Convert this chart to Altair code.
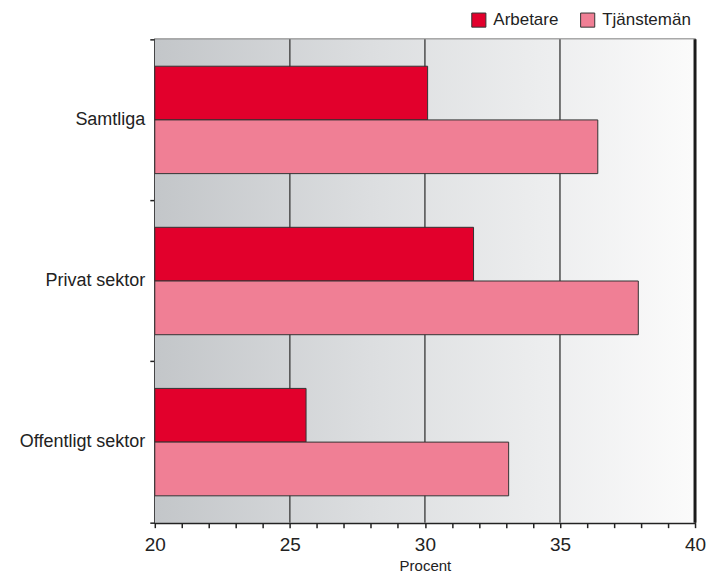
import altair as alt
import pandas as pd

categories = ["Samtliga", "Privat sektor", "Offentligt sektor"]
groups = ["Arbetare", "Tjänstemän"]
arbetare = [30.1, 31.8, 25.6]
tjansteman = [36.4, 37.9, 33.1]
x_ticks = list(range(20, 41))
x_min, x_max = 20, 40
grid_values = [25, 30, 35]
border_values = [40]
colors = ["#e2002c", "#f07f95"]

rows = []
for c, a, t in zip(categories, arbetare, tjansteman):
    rows.append({"kategori": c, "grupp": groups[0], "varde": a})
    rows.append({"kategori": c, "grupp": groups[1], "varde": t})
df = pd.DataFrame(rows)

FONT = "Liberation Sans"
xscale = alt.Scale(domain=[x_min, x_max], zero=False, nice=False)

x_axis = alt.Axis(
    values=x_ticks,
    labelExpr="datum.value % 5 === 0 ? datum.label : ''",
    labelOverlap=False,
    labelFlush=False,
    tickSize=5,
    tickColor="#222222",
    tickWidth=1.5,
    domainColor="#222222",
    domainWidth=2,
    grid=False,
    labelFontSize=19,
    labelColor="#222222",
    labelFont=FONT,
    labelPadding=8,
    title="Procent",
    titleFont=FONT,
    titleFontSize=15,
    titleFontWeight="normal",
    titleColor="#222222",
    titlePadding=4,
)

gradient = alt.LinearGradient(
    gradient="linear",
    stops=[
        alt.GradientStop(color="#c3c6c9", offset=0),
        alt.GradientStop(color="#dcdee0", offset=0.4),
        alt.GradientStop(color="#fbfbfb", offset=1),
    ],
    x1=0, x2=1, y1=0, y2=0,
)

bg = alt.Chart(pd.DataFrame({"a": [0]})).mark_rect(color=gradient).encode(
    opacity=alt.value(1)
)

grid = alt.Chart(pd.DataFrame({"v": grid_values})).mark_rule(
    color="#4d4d4d", strokeWidth=1.5
).encode(x=alt.X("v:Q", scale=xscale, axis=x_axis))

border = alt.Chart(pd.DataFrame({"v": border_values})).mark_rule(
    color="#1a1a1a", strokeWidth=3
).encode(x=alt.X("v:Q", scale=xscale, axis=x_axis))

bars = alt.Chart(df).mark_bar(stroke="#333333", strokeWidth=1).encode(
    x=alt.X("varde:Q", scale=xscale, axis=x_axis),
    x2=alt.datum(x_min),
    y=alt.Y(
        "kategori:N",
        sort=categories,
        scale=alt.Scale(paddingInner=0, paddingOuter=0),
        axis=alt.Axis(
            title=None,
            bandPosition=1,
            tickExtra=True,
            tickSize=5,
            tickColor="#222222",
            tickWidth=1.5,
            domainColor="#222222",
            domainWidth=2.5,
            labelFontSize=18,
            labelFont=FONT,
            labelColor="#222222",
            labelPadding=5,
        ),
    ),
    yOffset=alt.YOffset(
        "grupp:N", sort=groups, scale=alt.Scale(paddingInner=0, paddingOuter=0.5)
    ),
    color=alt.Color(
        "grupp:N",
        sort=groups,
        scale=alt.Scale(domain=groups, range=colors),
        legend=alt.Legend(
            title=None,
            orient="none",
            legendX=316,
            legendY=-28,
            direction="horizontal",
            symbolType="square",
            symbolSize=200,
            symbolStrokeColor="#333333",
            symbolStrokeWidth=1,
            symbolOpacity=1,
            labelFontSize=17,
            labelFont=FONT,
            labelColor="#222222",
            labelOffset=6,
            columnPadding=19,
        ),
    ),
)

chart = (
    alt.layer(bg, grid, border, bars)
    .properties(
        width=541,
        height=484,
        autosize=alt.AutoSizeParams(type="none"),
        padding={"left": 147, "top": 31, "right": 20, "bottom": 50},
    )
    .configure_view(stroke="#555555", strokeWidth=1.5)
)

chart.save("out.html", embed_options={"renderer": "svg", "actions": False})
